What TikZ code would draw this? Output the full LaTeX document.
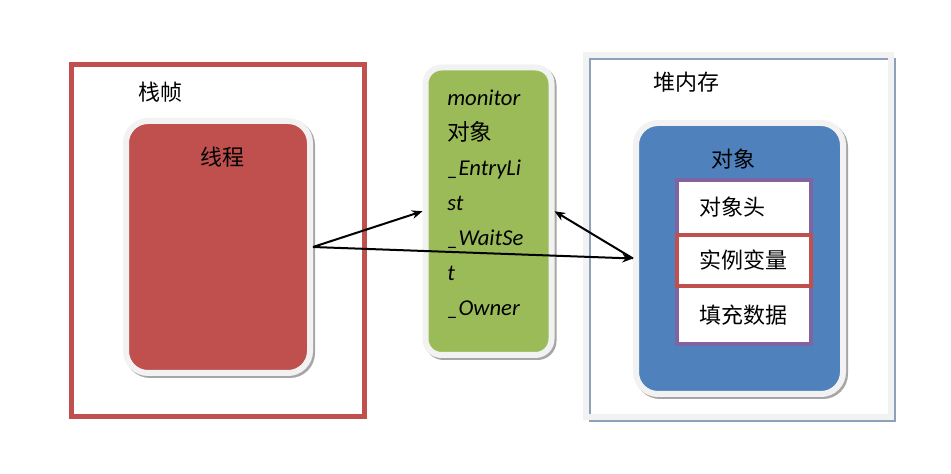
\documentclass[tikz,border=0pt]{standalone}
\usepackage{fontspec}
\setmainfont{Carlito}
\newfontfamily\cjk{Noto Sans CJK SC}
\usepackage{xcolor}
\usepackage{tikz}
\usetikzlibrary{positioning,arrows.meta}

\definecolor{stackRed}{HTML}{C0504D}
\definecolor{monGreen}{HTML}{9BBB59}
\definecolor{objBlue}{HTML}{4F81BD}
\definecolor{partPurple}{HTML}{8064A2}
\definecolor{edgeGray}{HTML}{F2F2F2}
\definecolor{heapBlue}{HTML}{8FA1BA}
\newcommand{\pxu}{0.75pt}

\begin{document}
\begin{tikzpicture}[
        x=0.75pt, y=-0.75pt,
        frame/.style={rectangle, line width=5*\pxu, outer sep=0pt},
        rbox/.style={rectangle, rounded corners=22*\pxu, draw=edgeGray, line width=6*\pxu,
            preaction={draw=black!35, line width=6*\pxu, transform canvas={shift={(1.5pt,-1.5pt)}}}},
        part/.style={rectangle, fill=white, draw=partPurple, line width=4*\pxu, outer sep=0pt,
            minimum width=134*\pxu, text width=90*\pxu, align=left, inner sep=0pt,
            font=\cjk\fontsize{16.5}{20}\selectfont},
        arrow/.style={-{Stealth[length=8pt, width=6.5pt]}, line width=1.5pt},
        label/.style={font=\cjk\fontsize{16.5}{20}\selectfont},
        montext/.style={align=left, inner sep=0pt, font=\fontsize{17}{26.2}\selectfont\itshape}
    ]
    \useasboundingbox (0,0) rectangle (951,474);

    % Stack frame with the thread
    \node[frame, draw=stackRed, minimum width=293*\pxu, minimum height=351.5*\pxu] (stack) at (218,240.75) {};
    \node[label] (stacklbl) at (160,92) {栈帧};
    \node[rbox, fill=stackRed, minimum width=184*\pxu, minimum height=252*\pxu] (thread) at (218,247) {};
    \node[label] (threadlbl) at (222,157) {线程};

    % Monitor object
    \node[rbox, fill=monGreen, rounded corners=16*\pxu, minimum width=126*\pxu, minimum height=287.5*\pxu] (mon) at (488.5,211.25) {};
    \node[montext, anchor=west] (montxt) at (447,204.5) {monitor\\ {\cjk\upshape 对象}\\ \_EntryLi\\ st\\ \_WaitSe\\ t\\ \_Owner};

    % Heap with the object
    \node[frame, draw=edgeGray, line width=6*\pxu,
        preaction={draw=heapBlue, line width=2*\pxu, transform canvas={shift={(3pt,-3pt)}}},
        minimum width=305.5*\pxu, minimum height=362.5*\pxu] (heap) at (738.25,236.25) {};
    \node[label] (heaplbl) at (686,82) {堆内存};
    \node[rbox, fill=objBlue, minimum width=207*\pxu, minimum height=271*\pxu] (obj) at (739.5,258.5) {};
    \node[label] (objlbl) at (733,159) {对象};

    % Object layout
    \node[part, minimum height=55*\pxu] (head) at (744,207.5) {对象头};
    \node[part, minimum height=58*\pxu, below=51*\pxu of head] (pad) {填充数据};
    \node[part, draw=stackRed, minimum height=51*\pxu, below=0pt of head] (inst) {实例变量};

    % Arrows
    \draw[arrow] (thread.east) -- (mon.west);
    \draw[arrow] (thread.east) -- (obj.west);
    \draw[arrow] (obj.west) -- (mon.east);

\end{tikzpicture}
\end{document}
